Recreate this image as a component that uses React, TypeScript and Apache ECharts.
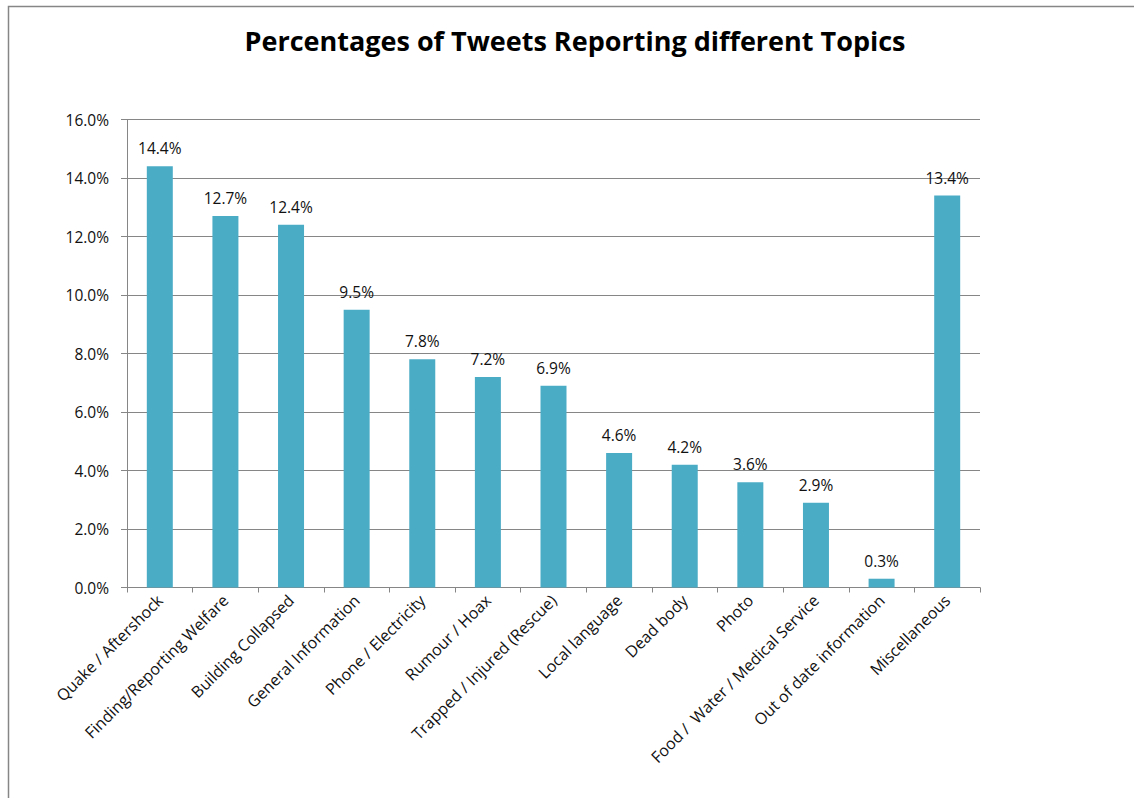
import React, { useEffect, useRef } from "react";
import * as echarts from "echarts";

const titleText = "Percentages of Tweets Reporting different Topics";
const categories = [
  "Quake / Aftershock",
  "Finding/Reporting Welfare",
  "Building Collapsed",
  "General Information",
  "Phone / Electricity",
  "Rumour / Hoax",
  "Trapped / Injured (Rescue)",
  "Local language",
  "Dead body",
  "Photo",
  "Food /  Water / Medical Service",
  "Out of date information",
  "Miscellaneous",
];
const values = [14.4, 12.7, 12.4, 9.5, 7.8, 7.2, 6.9, 4.6, 4.2, 3.6, 2.9, 0.3, 13.4];
const yMin = 0;
const yMax = 16;
const yStep = 2;

const FONT = "'Open Sans', 'Noto Sans', sans-serif";

export default function App() {
  const ref = useRef<HTMLDivElement>(null);
  useEffect(() => {
    if (!ref.current) return;
    const chart = echarts.init(ref.current, undefined, { renderer: "svg" });
    chart.setOption({
      animation: false,
      backgroundColor: "#ffffff",
      title: {
        text: titleText,
        left: 570,
        textAlign: "center",
        top: 22,
        textStyle: { fontFamily: FONT, fontWeight: "bold", fontSize: 27, color: "#000" },
      },
      graphic: [
        {
          type: "rect",
          shape: { x: 8.5, y: 6.5, width: 1300, height: 1000 },
          style: { fill: "none", stroke: "#868686", lineWidth: 1.5 },
          silent: true,
        },
      ],
      grid: { left: 127, right: 154, top: 119.5, bottom: 210.5, containLabel: false },
      xAxis: {
        type: "category",
        data: categories,
        axisLine: { show: true, lineStyle: { color: "#868686", width: 1 } },
        axisTick: { show: true, length: 5, lineStyle: { color: "#868686" } },
        axisLabel: {
          rotate: 45,
          interval: 0,
          fontFamily: FONT,
          fontSize: 16,
          color: "#111",
          margin: 10,
        },
      },
      yAxis: {
        type: "value",
        min: yMin,
        max: yMax,
        interval: yStep,
        axisLine: { show: true, lineStyle: { color: "#868686", width: 1 } },
        axisTick: { show: true, length: 6, lineStyle: { color: "#868686" } },
        splitLine: { show: true, lineStyle: { color: "#868686", width: 1 } },
        axisLabel: {
          fontFamily: FONT,
          fontSize: 15.5,
          color: "#111",
          margin: 18,
          formatter: (v: number) => v.toFixed(1) + "%",
        },
      },
      series: [
        {
          type: "bar",
          data: values,
          barWidth: 26,
          itemStyle: { color: "#4BACC6" },
          label: {
            show: true,
            position: "top",
            distance: 10,
            fontFamily: FONT,
            fontSize: 15.5,
            color: "#111",
            formatter: (p: any) => Number(p.value).toFixed(1) + "%",
          },
        },
      ],
    });
    return () => chart.dispose();
  }, []);
  return (
    <div
      ref={ref}
      style={{ position: "fixed", left: 0, top: 0, width: 1134, height: 798 }}
    />
  );
}
